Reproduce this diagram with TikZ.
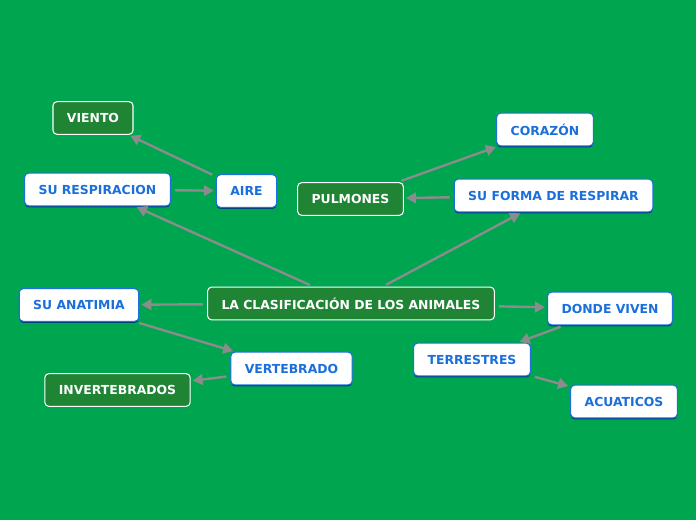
\documentclass[tikz,border=0pt]{standalone}
\usepackage{fontspec}
\setmainfont{DejaVu Sans}
\usetikzlibrary{arrows.meta,shadows}

\definecolor{bggreen}{HTML}{00A550}
\definecolor{darkgreen}{HTML}{1F8535}
\definecolor{bluebord}{HTML}{1E6FE0}
\definecolor{bluetext}{HTML}{1A6FDB}
\definecolor{linkgray}{HTML}{8C8C8C}

\tikzset{
	topic/.style={rounded corners=3pt, inner xsep=10.5pt, minimum height=24.5pt,
		font=\fontsize{9.3}{11}\bfseries, line width=0.8pt},
	darktopic/.style={topic, draw=white, fill=darkgreen, text=white},
	lighttopic/.style={topic, draw=bluebord, fill=white, text=bluetext,
		drop shadow={shadow xshift=0pt, shadow yshift=-1.2pt, fill=blue!60!black, opacity=0.6}},
	link/.style={draw=linkgray, line width=1.8pt, shorten <=3pt, shorten >=1.5pt,
		-{Triangle[length=7.5pt,width=8pt]}}
}

\begin{document}
\begin{tikzpicture}[x=0.75pt, y=-0.75pt]
			%%%%% START %%%%%
			
			\fill[bggreen] (0, 0) rectangle (696, 520);
			\useasboundingbox (0, 0) rectangle (696, 520);
			
			\node[darktopic] (clasif) at (351, 303.5) {LA CLASIFICACIÓN DE LOS ANIMALES};
			
			\node[lighttopic] (resp) at (97.5, 189.5) {SU RESPIRACION};
			\node[lighttopic] (aire) at (246.5, 191) {AIRE};
			\node[darktopic] (viento) at (93, 118) {VIENTO};
			
			\node[lighttopic] (forma) at (553.5, 195.5) {SU FORMA DE RESPIRAR};
			\node[darktopic] (pulmones) at (350.5, 199) {PULMONES};
			\node[lighttopic] (corazon) at (545, 129.5) {CORAZÓN};
			
			\node[lighttopic] (anat) at (79, 305) {SU ANATIMIA};
			\node[lighttopic] (vert) at (291.5, 368.5) {VERTEBRADO};
			\node[darktopic] (invert) at (117.5, 390) {INVERTEBRADOS};
			
			\node[lighttopic] (donde) at (610, 308.5) {DONDE VIVEN};
			\node[lighttopic] (terr) at (472, 359.5) {TERRESTRES};
			\node[lighttopic] (acua) at (624, 401.5) {ACUATICOS};
			
			\draw[link] (clasif) -- (resp);
			\draw[link] (resp) -- (aire);
			\draw[link] (aire) -- (viento);
			
			\draw[link] (clasif) -- (forma);
			\draw[link] (forma) -- (pulmones);
			\draw[link] (pulmones) -- (corazon);
			
			\draw[link] (clasif) -- (anat);
			\draw[link] (anat) -- (vert);
			\draw[link] (vert) -- (invert);
			
			\draw[link] (clasif) -- (donde);
			\draw[link] (donde) -- (terr);
			\draw[link] (terr) -- (acua);
			
			%%%%% END %%%%%
		\end{tikzpicture}
\end{document}
